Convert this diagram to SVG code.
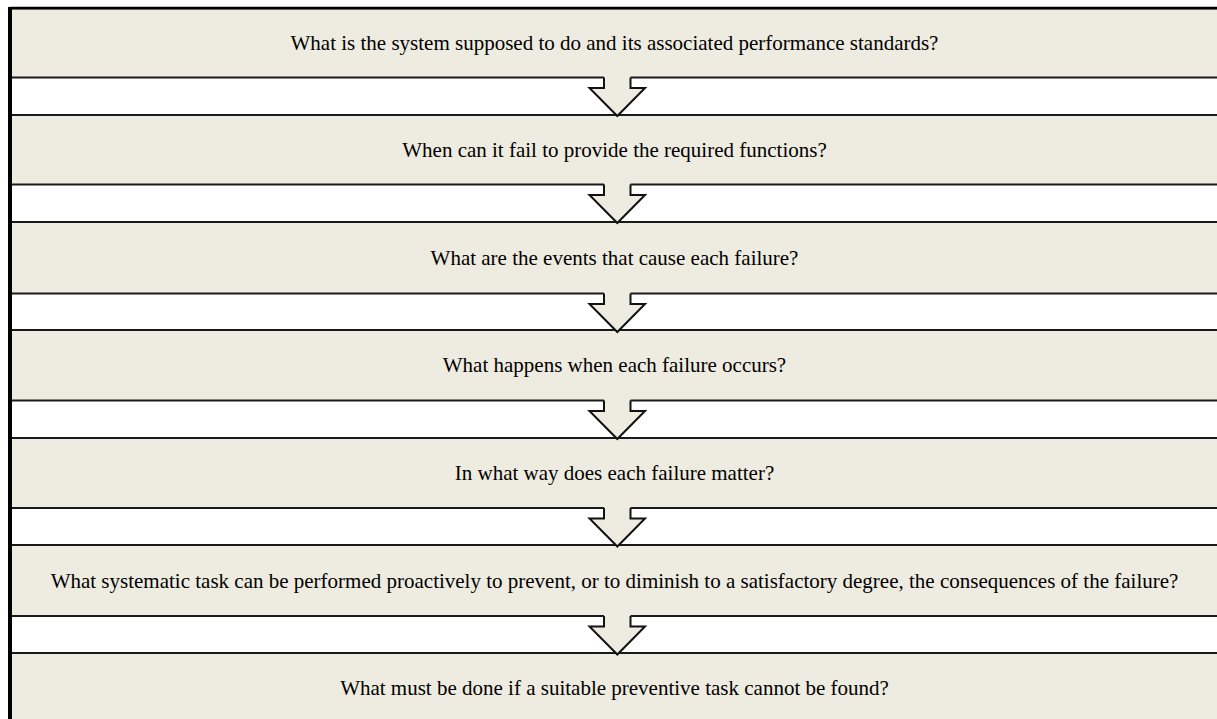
<svg xmlns="http://www.w3.org/2000/svg" width="1217" height="719" viewBox="0 0 1217 719">
<style>
.box{fill:#EEECE1;stroke:#1a1a1a;stroke-width:2}
.top{fill:none;stroke:#000;stroke-width:2.5}
.lbl{font-family:"Liberation Serif","Times New Roman",serif;font-size:21px;fill:#000;text-anchor:middle;dominant-baseline:central}
.afill{fill:#EEECE1;stroke:none}
.aline{fill:none;stroke:#111;stroke-width:2;stroke-linejoin:miter}
</style>
<rect x="0" y="0" width="1217" height="719" fill="#fff"/>
<g id="node1"><rect class="box" x="10" y="8.5" width="1212" height="69"/><line class="top" x1="10" y1="8" x2="1217" y2="8"/><text class="lbl" x="614.5" y="43">What is the system supposed to do and its associated performance standards?</text></g>
<g id="node2"><rect class="box" x="10" y="115" width="1212" height="69.5"/><text class="lbl" x="614.5" y="149.7">When can it fail to provide the required functions?</text></g>
<g id="node3"><rect class="box" x="10" y="222" width="1212" height="71.5"/><text class="lbl" x="614.5" y="257.7">What are the events that cause each failure?</text></g>
<g id="node4"><rect class="box" x="10" y="330" width="1212" height="70.5"/><text class="lbl" x="614.5" y="365.2">What happens when each failure occurs?</text></g>
<g id="node5"><rect class="box" x="10" y="438" width="1212" height="70"/><text class="lbl" x="614.5" y="473">In what way does each failure matter?</text></g>
<g id="node6"><rect class="box" x="10" y="545" width="1212" height="71"/><text class="lbl" x="614.5" y="580.5">What systematic task can be performed proactively to prevent, or to diminish to a satisfactory degree, the consequences of the failure?</text></g>
<g id="node7"><rect class="box" x="10" y="653" width="1212" height="80"/><text class="lbl" x="614.5" y="688">What must be done if a suitable preventive task cannot be found?</text></g>
<g id="connectors">
<g transform="translate(0,77.5)"><polygon class="afill" points="604,-2 604,10.5 589.5,10.5 617.3,38.5 645,10.5 630.5,10.5 630.5,-2"/><polyline class="aline" points="604,0 604,10.5 589.5,10.5 617.3,38.5 645,10.5 630.5,10.5 630.5,0"/></g>
<g transform="translate(0,184.5)"><polygon class="afill" points="604,-2 604,10.5 589.5,10.5 617.3,38.5 645,10.5 630.5,10.5 630.5,-2"/><polyline class="aline" points="604,0 604,10.5 589.5,10.5 617.3,38.5 645,10.5 630.5,10.5 630.5,0"/></g>
<g transform="translate(0,293.5)"><polygon class="afill" points="604,-2 604,10.5 589.5,10.5 617.3,38.5 645,10.5 630.5,10.5 630.5,-2"/><polyline class="aline" points="604,0 604,10.5 589.5,10.5 617.3,38.5 645,10.5 630.5,10.5 630.5,0"/></g>
<g transform="translate(0,400.5)"><polygon class="afill" points="604,-2 604,10.5 589.5,10.5 617.3,38.5 645,10.5 630.5,10.5 630.5,-2"/><polyline class="aline" points="604,0 604,10.5 589.5,10.5 617.3,38.5 645,10.5 630.5,10.5 630.5,0"/></g>
<g transform="translate(0,508)"><polygon class="afill" points="604,-2 604,10.5 589.5,10.5 617.3,38.5 645,10.5 630.5,10.5 630.5,-2"/><polyline class="aline" points="604,0 604,10.5 589.5,10.5 617.3,38.5 645,10.5 630.5,10.5 630.5,0"/></g>
<g transform="translate(0,616)"><polygon class="afill" points="604,-2 604,10.5 589.5,10.5 617.3,38.5 645,10.5 630.5,10.5 630.5,-2"/><polyline class="aline" points="604,0 604,10.5 589.5,10.5 617.3,38.5 645,10.5 630.5,10.5 630.5,0"/></g>
</g>
<line x1="10" y1="7" x2="10" y2="719" stroke="#000" stroke-width="4"/>
</svg>
